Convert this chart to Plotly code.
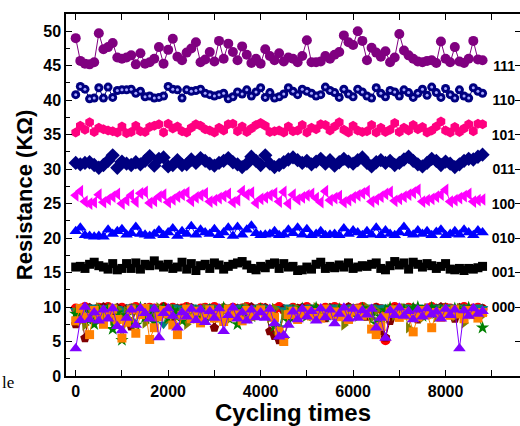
import plotly.graph_objects as go

cycles = [0, 100, 200, 300, 400, 500, 600, 700, 800, 900,
          1000, 1100, 1200, 1300, 1400, 1500, 1600, 1700, 1800, 1900,
          2000, 2100, 2200, 2300, 2400, 2500, 2600, 2700, 2800, 2900,
          3000, 3100, 3200, 3300, 3400, 3500, 3600, 3700, 3800, 3900,
          4000, 4100, 4200, 4300, 4400, 4500, 4600, 4700, 4800, 4900,
          5000, 5100, 5200, 5300, 5400, 5500, 5600, 5700, 5800, 5900,
          6000, 6100, 6200, 6300, 6400, 6500, 6600, 6700, 6800, 6900,
          7000, 7100, 7200, 7300, 7400, 7500, 7600, 7700, 7800, 7900,
          8000, 8100, 8200, 8300, 8400, 8500, 8600, 8700, 8800]

r111 = [49.0, 45.7, 45.3, 45.2, 45.5, 49.7, 47.4, 47.7, 48.3, 46.2,
        46.0, 46.2, 46.5, 45.2, 46.8, 45.3, 45.5, 46.0, 47.7, 45.3,
        47.3, 48.9, 46.3, 45.8, 46.9, 47.5, 48.4, 45.5, 45.9, 47.0,
        45.6, 48.6, 46.0, 48.2, 47.0, 45.8, 47.8, 46.6, 45.4, 46.0,
        45.3, 47.4, 46.4, 45.8, 46.8, 45.6, 46.2, 46.0, 45.5, 46.4,
        48.7, 45.5, 45.5, 45.6, 46.4, 46.0, 46.6, 47.0, 49.4, 48.4,
        48.0, 50.0, 48.6, 45.8, 47.6, 46.9, 46.3, 47.1, 45.5, 46.2,
        49.6, 47.2, 46.5, 46.0, 45.6, 45.5, 45.7, 45.8, 45.4, 48.5,
        46.0, 45.5, 47.7, 45.6, 45.4, 46.0, 48.6, 45.9, 45.8]
r110 = [40.8, 42.0, 41.6, 40.2, 40.3, 41.8, 40.3, 41.9, 40.4, 41.4,
        41.5, 41.5, 41.6, 41.0, 41.3, 40.5, 40.6, 40.3, 40.4, 40.6,
        42.0, 41.6, 41.5, 40.3, 41.5, 41.3, 41.4, 41.6, 41.0, 40.8,
        40.6, 40.8, 41.0, 40.2, 40.5, 41.2, 40.9, 41.5, 40.6, 41.2,
        41.8, 40.4, 41.1, 40.3, 40.5, 40.9, 41.8, 41.3, 40.8, 41.6,
        41.3, 41.0, 40.6, 40.8, 41.9, 41.4, 41.1, 40.4, 41.6, 40.9,
        40.5, 41.6, 41.2, 40.6, 40.3, 41.8, 41.0, 40.5, 41.4, 41.2,
        40.6, 41.5, 41.1, 40.4, 41.0, 41.6, 40.7, 41.9, 41.1, 40.4,
        41.7, 40.8, 40.3, 41.5, 40.6, 40.3, 41.8, 41.3, 41.0]
r101 = [35.3, 36.3, 35.7, 36.8, 35.4, 36.0, 35.8, 35.6, 35.5, 35.3,
        36.2, 35.2, 35.4, 36.3, 35.5, 35.4, 36.1, 36.3, 36.5, 35.3,
        36.6, 35.9, 36.2, 35.5, 35.3, 36.0, 36.5, 36.3, 35.8, 35.6,
        35.3, 36.0, 35.6, 36.5, 36.6, 35.5, 36.2, 35.4, 35.9, 36.4,
        36.7, 36.3, 35.4, 35.5, 35.6, 35.3, 36.2, 35.5, 35.6, 36.4,
        35.3, 36.0, 35.8, 36.5, 36.4, 35.6, 36.2, 36.8, 35.7, 35.3,
        36.3, 35.6, 35.4, 35.5, 36.4, 35.3, 36.0, 35.4, 35.7, 36.7,
        35.4, 36.0, 35.6, 36.4, 35.8, 36.1, 35.3, 35.6, 36.2, 36.9,
        35.6, 35.3, 36.1, 35.4, 35.9, 36.5, 35.5, 36.6, 36.5]
r011 = [30.9, 30.7, 30.9, 31.0, 30.6, 30.2, 30.6, 31.2, 32.0, 30.2,
        31.1, 30.8, 30.6, 31.0, 30.7, 31.2, 31.9, 30.5, 31.5, 31.7,
        30.4, 30.6, 31.3, 30.6, 30.7, 31.4, 30.9, 31.6, 31.2, 30.8,
        30.5, 30.9, 31.2, 31.6, 31.0, 30.7, 30.3, 30.8, 31.8, 31.2,
        30.6, 32.0, 30.8, 30.3, 30.6, 31.0, 31.4, 31.7, 31.3, 30.9,
        31.2, 30.7, 31.1, 31.5, 30.8, 31.3, 30.5, 31.0, 31.5, 31.1,
        30.8, 31.3, 31.7, 30.9, 30.4, 31.0, 31.3, 30.9, 31.2, 30.6,
        30.9, 31.4, 31.8, 31.2, 30.7, 30.4, 30.9, 31.5, 31.2, 30.6,
        31.1, 30.8, 30.3, 30.7, 31.2, 31.5, 31.4, 31.8, 32.1]
r100 = [26.2, 26.8, 25.3, 25.0, 25.2, 26.3, 25.2, 25.6, 26.0, 26.4,
        25.0, 25.5, 26.2, 25.3, 26.5, 26.7, 25.1, 25.4, 26.0, 26.3,
        25.2, 25.6, 26.0, 26.3, 26.6, 25.4, 25.9, 26.2, 26.5, 25.3,
        25.5, 25.8, 26.1, 26.4, 25.2, 25.5, 26.8, 26.3, 26.6, 25.1,
        25.7, 25.9, 26.2, 26.5, 25.3, 26.7, 25.0, 26.3, 25.6, 25.9,
        26.2, 26.4, 25.8, 25.2, 26.8, 25.5, 25.8, 26.1, 25.2, 25.5,
        25.9, 26.2, 26.5, 26.8, 25.3, 25.6, 26.0, 26.4, 26.7, 25.4,
        25.7, 26.0, 26.3, 26.6, 27.0, 25.3, 25.5, 25.7, 26.0, 26.3,
        27.0, 25.3, 25.5, 25.8, 26.1, 26.4, 25.3, 25.5, 25.6]
r010 = [21.0, 21.5, 20.4, 20.3, 20.2, 20.3, 20.2, 21.2, 20.6, 21.0,
        21.3, 20.5, 20.7, 21.6, 20.6, 20.5, 20.3, 20.6, 21.1, 20.4,
        20.8, 21.4, 20.3, 21.0, 20.6, 21.7, 20.5, 21.2, 20.8, 20.6,
        21.3, 20.4, 20.8, 21.5, 20.3, 21.6, 20.5, 21.2, 21.8, 20.7,
        20.4, 20.5, 20.6, 21.0, 20.4, 20.5, 21.2, 20.7, 21.5, 20.5,
        21.3, 20.4, 20.6, 21.0, 20.4, 20.5, 20.6, 20.4, 21.4, 20.6,
        21.1, 20.8, 20.4, 21.0, 20.5, 21.5, 20.4, 21.1, 20.6, 20.4,
        20.8, 21.6, 20.7, 20.5, 21.1, 20.6, 21.0, 20.4, 20.9, 21.2,
        20.4, 20.6, 21.0, 20.5, 21.2, 20.8, 20.4, 21.1, 20.8]
r001 = [15.8, 15.9, 15.6, 16.2, 16.5, 16.0, 15.8, 15.5, 16.3, 15.4,
        15.6, 16.3, 15.6, 16.4, 15.5, 16.2, 16.0, 16.7, 16.1, 15.8,
        16.2, 15.6, 15.8, 16.5, 15.5, 16.3, 15.3, 16.0, 16.2, 15.6,
        16.4, 16.1, 15.5, 15.9, 16.2, 16.4, 16.6, 16.1, 15.6, 15.4,
        15.9, 15.7, 16.2, 16.4, 15.6, 16.3, 15.8, 15.9, 15.3, 15.4,
        15.8, 15.5, 16.2, 16.5, 15.6, 15.9, 15.7, 16.1, 15.8, 16.4,
        15.6, 15.8, 16.0, 15.9, 16.2, 16.4, 15.6, 15.4, 16.0, 16.6,
        16.1, 16.4, 15.5, 16.5, 16.2, 15.8, 16.3, 16.0, 15.6, 15.9,
        16.3, 15.5, 15.4, 15.6, 15.3, 15.6, 15.5, 15.7, 15.9]

# "000" state: several overlapping measurement runs
s000_red = [9.8, 9.6, 10.0, 9.7, 9.5, 9.9, 9.8, 10.0, 9.6, 9.7,
            9.9, 9.5, 9.8, 10.0, 9.7, 9.6, 9.9, 9.8, 9.5, 10.0,
            9.7, 9.9, 9.6, 9.8, 10.0, 9.7, 9.5, 9.8, 9.9, 9.6,
            10.0, 9.7, 9.8, 9.6, 9.9, 9.5, 9.8, 10.0, 9.7, 9.6,
            9.9, 9.8, 9.5, 9.7, 10.0, 9.6, 8.8, 9.9, 9.7, 9.8,
            10.0, 9.6, 9.8, 9.5, 9.9, 9.7, 10.0, 9.8, 9.6, 9.9,
            9.7, 9.8, 10.0, 9.4, 9.6, 9.9, 9.7, 5.2, 9.5, 10.0,
            9.8, 9.6, 9.9, 9.7, 9.4, 9.5, 9.8, 10.0, 9.7, 9.6,
            9.9, 9.8, 9.6, 9.7, 10.0, 9.5, 9.8, 9.9, 9.7]
s000_darkred = [7.5, 9.8, 5.5, 9.9, 9.6, 9.2, 10.0, 8.8, 9.4, 9.9,
                8.6, 9.7, 7.2, 9.5, 9.8, 9.9, 9.3, 8.9, 9.6, 10.0,
                9.4, 8.5, 9.8, 9.7, 9.0, 9.9, 9.5, 8.2, 9.6, 9.8,
                7.0, 9.7, 9.9, 9.3, 8.7, 9.8, 9.4, 9.6, 10.0, 9.2,
                9.5, 9.9, 6.5, 5.8, 5.2, 9.7, 9.3, 8.6, 9.8, 9.9,
                9.6, 9.0, 9.8, 9.4, 8.4, 9.9, 9.7, 9.5, 9.3, 10.0,
                9.2, 9.6, 9.8, 8.6, 9.4, 9.9, 6.5, 5.6, 8.0, 9.7,
                9.5, 9.8, 9.3, 9.9, 8.2, 9.6, 9.7, 9.4, 9.8, 10.0,
                9.6, 9.2, 8.3, 9.9, 9.5, 9.7, 9.4, 9.6, 9.8]
s000_teal = [9.5, 9.9, 9.8, 8.5, 10.0, 9.7, 9.9, 9.6, 10.0, 9.8,
             9.6, 8.2, 10.0, 9.9, 9.7, 9.8, 10.0, 9.5, 9.9, 7.5,
             9.8, 10.0, 9.7, 9.9, 9.6, 10.0, 9.8, 9.9, 9.7, 10.0,
             9.9, 9.8, 10.0, 9.6, 9.9, 9.7, 10.0, 9.8, 9.5, 9.9,
             10.0, 9.7, 9.9, 9.8, 7.0, 9.6, 10.0, 9.9, 9.8, 9.7,
             9.9, 10.0, 9.8, 9.6, 9.9, 9.7, 10.0, 9.8, 9.9, 9.6,
             10.0, 9.8, 9.9, 9.7, 10.0, 9.6, 9.9, 10.0, 9.8, 9.9,
             9.7, 10.0, 9.9, 9.8, 10.0, 9.6, 9.9, 9.8, 10.0, 9.9,
             9.8, 10.0, 9.7, 9.9, 10.0, 9.8, 9.9, 10.0, 9.8]
s000_olive = [9.2, 8.0, 7.4, 9.6, 8.8, 9.9, 8.5, 9.3, 8.1, 9.7,
              8.7, 9.4, 8.0, 9.8, 9.1, 7.7, 9.5, 8.6, 9.9, 9.0,
              8.3, 9.6, 8.9, 9.2, 7.5, 9.7, 8.4, 9.1, 9.8, 8.6,
              9.4, 8.8, 9.7, 8.2, 9.5, 9.0, 8.7, 9.9, 8.4, 9.3,
              9.6, 9.1, 8.5, 9.8, 6.2, 8.9, 9.4, 8.7, 9.7, 9.2,
              8.8, 9.5, 9.9, 8.6, 9.3, 9.7, 8.9, 9.5, 7.4, 9.0,
              9.6, 8.7, 9.2, 9.9, 8.4, 9.5, 7.8, 9.1, 9.7, 8.8,
              9.4, 9.8, 7.0, 9.6, 9.2, 8.5, 9.8, 9.0, 8.6, 9.5,
              9.7, 9.1, 8.7, 9.8, 7.7, 9.4, 9.6, 9.0, 8.8]
s000_green = [9.0, 8.6, 9.8, 8.2, 7.5, 9.5, 8.8, 9.7, 6.8, 9.2,
              5.2, 8.8, 9.6, 7.4, 9.9, 8.5, 9.3, 7.8, 9.0, 9.8,
              8.4, 9.5, 9.1, 8.0, 9.7, 8.7, 9.4, 9.0, 8.5, 9.6,
              9.3, 8.8, 9.9, 8.4, 9.2, 7.5, 9.6, 9.0, 8.6, 9.4,
              9.7, 8.9, 9.3, 7.2, 6.0, 5.3, 8.0, 9.5, 9.2, 9.8,
              8.7, 9.4, 9.9, 9.1, 8.6, 9.5, 8.9, 9.7, 9.2, 8.5,
              9.6, 9.3, 9.8, 8.8, 9.4, 7.6, 8.6, 9.5, 9.9, 9.2,
              8.9, 9.6, 9.3, 9.8, 10.0, 8.7, 9.4, 9.9, 9.1, 9.5,
              9.7, 9.2, 9.8, 9.3, 9.6, 9.9, 9.0, 8.6, 7.0]
s000_orange = [8.0, 9.8, 8.5, 6.0, 9.5, 8.8, 7.5, 9.0, 9.7, 8.2,
               5.5, 7.8, 9.6, 6.2, 8.9, 9.8, 5.3, 7.0, 8.6, 9.5,
               9.0, 7.4, 6.0, 8.8, 9.7, 8.3, 9.4, 7.7, 8.9, 9.6,
               8.4, 9.2, 7.9, 9.7, 8.6, 9.0, 8.0, 9.5, 8.7, 9.3,
               9.6, 8.8, 9.1, 8.5, 6.5, 5.0, 8.9, 9.4, 8.2, 9.0,
               9.5, 8.7, 9.2, 8.4, 9.7, 8.9, 9.3, 8.6, 9.0, 8.2,
               9.4, 9.7, 8.8, 9.1, 6.8, 6.0, 7.2, 8.6, 9.3, 9.6,
               8.5, 9.2, 8.8, 6.4, 8.6, 9.5, 8.9, 7.0, 9.2, 8.5,
               9.4, 8.8, 9.6, 9.0, 8.3, 9.5, 8.9, 8.4, 9.2]
s000_purple = [4.0, 8.1, 10.0, 8.2, 9.2, 8.0, 9.6, 8.3, 9.8, 7.2,
               6.6, 8.4, 9.6, 7.4, 9.8, 9.1, 8.3, 9.7, 5.6, 9.1,
               9.8, 8.7, 7.0, 9.2, 8.6, 9.7, 8.1, 9.6, 7.8, 9.4,
               8.4, 9.8, 6.5, 8.8, 9.9, 8.3, 9.2, 8.0, 9.6, 8.5,
               9.2, 8.4, 9.7, 7.6, 5.7, 5.9, 7.4, 9.3, 8.2, 9.7,
               8.6, 9.4, 8.0, 9.8, 8.5, 9.6, 7.6, 9.0, 9.9, 8.3,
               9.7, 8.4, 9.5, 8.9, 9.7, 7.0, 8.4, 5.5, 9.5, 8.8,
               9.9, 8.7, 9.4, 8.2, 9.6, 8.6, 9.8, 8.9, 9.3, 8.3,
               9.7, 8.8, 9.6, 4.0, 9.5, 8.7, 9.8, 9.0, 9.4]

state_ticks = [0, 5, 10, 15, 20, 25, 30, 35, 40, 45, 50]
state_labels = ["", "", "000", "001", "010", "100", "011", "101", "110", "111", ""]

FONT = "Liberation Sans"

fig = go.Figure()


def add(y, color, symbol, size, mode="lines+markers"):
    fig.add_trace(go.Scatter(x=cycles, y=y, mode=mode,
                             line=dict(color=color, width=1),
                             marker=dict(color=color, symbol=symbol, size=size,
                                         line=dict(width=0)),
                             showlegend=False))


add(s000_red, "#FF0000", "circle", 10)
add(s000_darkred, "#800000", "pentagon", 10)
add(s000_teal, "#008080", "triangle-down", 10)
add(s000_olive, "#808000", "triangle-right", 10)
add(s000_green, "#008000", "star", 10)
add(s000_orange, "#FF8000", "square", 9)
add(s000_purple, "#8000FF", "triangle-up", 11)

add(r001, "#000000", "square", 9)
add(r010, "#0000FF", "triangle-up", 11)
add(r100, "#FF00FF", "triangle-left", 11)
add(r011, "#000080", "diamond", 11)
add(r101, "#FF0080", "hexagon", 10)
add(r110, "#000080", "circle", 9)
add(r110, "#A8A8FF", "circle", 3, mode="markers")   # sphere highlight
add(r111, "#800080", "circle", 10)

# invisible trace to anchor the right-hand state axis
fig.add_trace(go.Scatter(x=[cycles[0]], y=[state_ticks[0]], yaxis="y2",
                         mode="markers", marker=dict(opacity=0),
                         showlegend=False, hoverinfo="skip"))

axis_font = dict(family=FONT, size=16, color="black", weight="bold")
state_font = dict(family=FONT, size=14, color="black", weight="bold")

fig.update_layout(
    width=520, height=426,
    margin=dict(l=66, r=0, t=14, b=50),
    paper_bgcolor="white", plot_bgcolor="white",
    xaxis=dict(range=[-210, 9610], tickvals=[0, 2000, 4000, 6000, 8000],
               ticks="inside", ticklen=6, tickwidth=1.2, tickcolor="black",
               minor=dict(dtick=1000, tick0=0, ticks="inside", ticklen=5,
                          tickcolor="black", tickwidth=1.2),
               showline=True, linecolor="black", linewidth=1.5,
               mirror="allticks", showgrid=False, zeroline=False,
               tickfont=axis_font,
               title=dict(text="Cycling times", standoff=3,
                          font=dict(family=FONT, size=24, color="black", weight="bold"))),
    yaxis=dict(range=[0, 52.5], dtick=5, tick0=0,
               ticks="inside", ticklen=6, tickwidth=1.2, tickcolor="black",
               minor=dict(dtick=2.5, tick0=0, ticks="inside", ticklen=4,
                          tickcolor="black", tickwidth=1.2),
               showline=True, linecolor="black", linewidth=1.5,
               mirror=False, showgrid=False, zeroline=False,
               tickfont=axis_font, automargin=False,
               title=dict(text="Resistance (KΩ)", standoff=5,
                          font=dict(family=FONT, size=22, color="black", weight="bold"))),
    yaxis2=dict(range=[0, 52.5], overlaying="y", side="right",
                tickvals=state_ticks, ticktext=state_labels,
                ticks="inside", ticklen=5, tickwidth=1.2, tickcolor="black",
                ticklabelposition="inside", showline=True, linecolor="black",
                linewidth=1.5, showgrid=False, zeroline=False,
                tickfont=state_font, automargin=False),
)

fig.add_annotation(text="le", xref="paper", yref="paper",
                   x=-66 / 454, y=-6 / 362, xanchor="left", yanchor="middle",
                   showarrow=False,
                   font=dict(family="Liberation Serif", size=17, color="black"))

fig.write_html("out.html", config={"displayModeBar": False},
               post_script="document.body.style.margin='0';"
                           "document.body.style.overflow='hidden';")
